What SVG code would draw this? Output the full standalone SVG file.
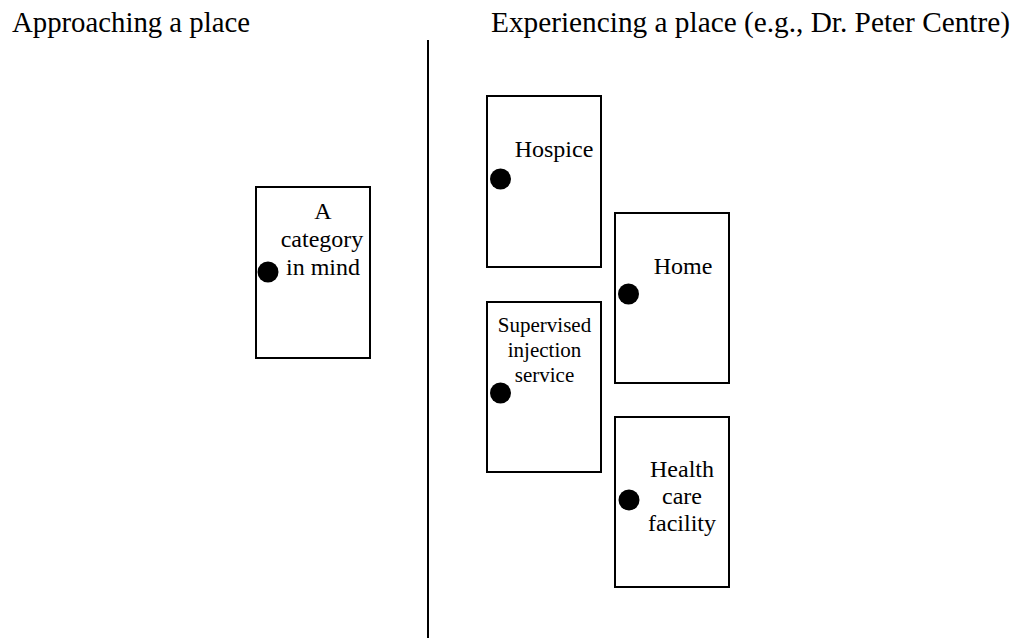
<svg xmlns="http://www.w3.org/2000/svg" width="1018" height="643" viewBox="0 0 1018 643">
  <style>
    text { font-family: "Liberation Serif", "Times New Roman", serif; fill: #000; }
    .head { font-size: 29px; }
    .lbl { font-size: 24px; text-anchor: middle; }
    .lbl-sm { font-size: 21px; text-anchor: middle; }
    .door { fill: #fff; stroke: #000; stroke-width: 2; }
    .knob { fill: #000; }
    .divider { stroke: #000; stroke-width: 2; }
  </style>
  <rect width="1018" height="643" fill="#fff"/>

  <!-- column headings -->
  <text class="head" x="12" y="32" textLength="238" lengthAdjust="spacingAndGlyphs">Approaching a place</text>
  <text class="head" x="491" y="32" textLength="519" lengthAdjust="spacingAndGlyphs">Experiencing a place (e.g., Dr. Peter Centre)</text>

  <!-- separator between the two columns -->
  <g id="connectors">
    <line class="divider" x1="428" y1="40" x2="428" y2="638"/>
  </g>

  <g id="category">
    <rect class="door" x="256" y="187" width="114" height="171"/>
    <circle class="knob" cx="268" cy="272" r="10.5"/>
    <text class="lbl" x="323" y="219">A</text>
    <text class="lbl" x="322" y="247">category</text>
    <text class="lbl" x="323" y="275">in mind</text>
  </g>

  <g id="hospice">
    <rect class="door" x="487" y="96" width="114" height="171"/>
    <circle class="knob" cx="500.5" cy="179" r="10.5"/>
    <text class="lbl" x="554" y="157">Hospice</text>
  </g>

  <g id="home">
    <rect class="door" x="615" y="213" width="114" height="170"/>
    <circle class="knob" cx="628.5" cy="294" r="10.5"/>
    <text class="lbl" x="683" y="274">Home</text>
  </g>

  <g id="supervised">
    <rect class="door" x="487" y="302" width="114" height="170"/>
    <circle class="knob" cx="500.5" cy="393" r="10.5"/>
    <text class="lbl-sm" x="544.5" y="332">Supervised</text>
    <text class="lbl-sm" x="544.5" y="357">injection</text>
    <text class="lbl-sm" x="544.5" y="382">service</text>
  </g>

  <g id="health">
    <rect class="door" x="615" y="417" width="114" height="170"/>
    <circle class="knob" cx="629" cy="500" r="10.5"/>
    <text class="lbl" x="682" y="477">Health</text>
    <text class="lbl" x="682" y="504">care</text>
    <text class="lbl" x="682" y="531">facility</text>
  </g>
</svg>
